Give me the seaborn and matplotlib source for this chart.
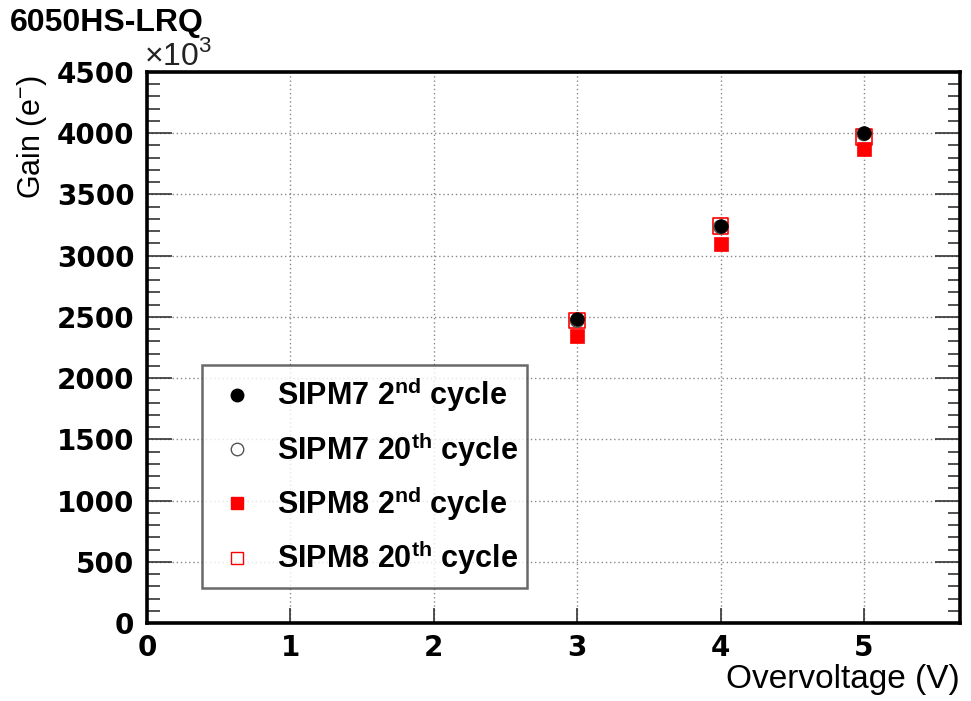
import matplotlib
matplotlib.use("Agg")
import matplotlib.pyplot as plt
from matplotlib.lines import Line2D
from matplotlib.ticker import MultipleLocator
import seaborn as sns
import pandas as pd

# ---- data ----
overvoltage = [3, 4, 5]
sipm7_2nd = [2480, 3245, 4005]
sipm7_20th = [2470, 3235, 3995]
sipm8_2nd = [2345, 3095, 3875]
sipm8_20th = [2470, 3240, 3970]
series_labels = [r"SIPM7 2$^{\mathbf{nd}}$ cycle",
                 r"SIPM7 20$^{\mathbf{th}}$ cycle",
                 r"SIPM8 2$^{\mathbf{nd}}$ cycle",
                 r"SIPM8 20$^{\mathbf{th}}$ cycle"]
x_ticks = [0, 1, 2, 3, 4, 5]
y_ticks = [0, 500, 1000, 1500, 2000, 2500, 3000, 3500, 4000, 4500]

sns.set_theme(style="white")
plt.rcParams["font.family"] = ["Liberation Sans", "DejaVu Sans"]
plt.rcParams["mathtext.fontset"] = "custom"
plt.rcParams["mathtext.rm"] = "Liberation Sans"
plt.rcParams["mathtext.bf"] = "Liberation Sans:bold"
for k in ["text.color", "axes.labelcolor", "xtick.color", "ytick.color"]:
    plt.rcParams[k] = "black"

fig = plt.figure(figsize=(9.71, 7.01), dpi=100)
ax = fig.add_axes([147 / 971, 1 - 623 / 701, (960 - 147) / 971, (623 - 72) / 701])

df = pd.DataFrame({"V": overvoltage, "s7a": sipm7_2nd, "s7b": sipm7_20th,
                   "s8a": sipm8_2nd, "s8b": sipm8_20th})

sns.scatterplot(data=df, x="V", y="s7a", marker="o", s=95, color="black",
                edgecolor="black", linewidth=0.5, ax=ax, zorder=5)
sns.scatterplot(data=df, x="V", y="s7b", marker="o", s=95, color="#555555",
                facecolor="none", edgecolor="#555555", linewidth=1.0, ax=ax, zorder=4)
sns.scatterplot(data=df, x="V", y="s8a", marker="s", s=100, color="red",
                edgecolor="red", linewidth=0.5, ax=ax, zorder=3)
sns.scatterplot(data=df, x="V", y="s8b", marker="s", s=130, color="red",
                facecolor="none", edgecolor="red", linewidth=1.2, ax=ax, zorder=2)

ax.set_xlim(0, 5.67)
ax.set_ylim(0, 4500)
ax.set_xticks(x_ticks)
ax.set_yticks(y_ticks)
ax.set_xticklabels([str(v) for v in x_ticks], fontfamily="DejaVu Sans",
                   fontweight="bold", fontsize=20)
ax.set_yticklabels([str(v) for v in y_ticks], fontfamily="DejaVu Sans",
                   fontweight="bold", fontsize=20)
ax.yaxis.set_minor_locator(MultipleLocator(100))

ax.tick_params(axis="y", which="major", direction="in", length=18, width=1.2,
               color="#333333", left=True, right=True, pad=9)
ax.tick_params(axis="y", which="minor", direction="in", length=9, width=1.2,
               color="#333333", left=True, right=True)
ax.tick_params(axis="x", which="major", direction="in", length=11, width=1.2,
               color="#333333", bottom=True, top=False, pad=8)

ax.grid(True, which="major", color="#888888", linestyle=(0, (1, 2)), linewidth=1.0)
ax.set_axisbelow(True)

for sp in ax.spines.values():
    sp.set_visible(True)
    sp.set_color("black")
    sp.set_linewidth(2.6)

ax.set_xlabel("Overvoltage (V)", fontsize=24, loc="right")
ax.xaxis.set_label_coords(1.0, -0.075)
ax.set_ylabel(r"Gain (e$^{-}$)", fontsize=22, loc="top")
ax.yaxis.set_label_coords(-0.12, 0.995)

ax.text(-0.004, 1.0, r"$\times$10$^{3}$", transform=ax.transAxes, fontsize=23,
        ha="left", va="bottom", color="#222222")
fig.text(10 / 971, 1 - 8 / 701, "6050HS-LRQ", fontsize=23, fontweight="bold",
         ha="left", va="top")

handles = [
    Line2D([], [], linestyle="none", marker="o", markersize=9,
           markerfacecolor="black", markeredgecolor="black"),
    Line2D([], [], linestyle="none", marker="o", markersize=9,
           markerfacecolor="none", markeredgecolor="#555555", markeredgewidth=1.0),
    Line2D([], [], linestyle="none", marker="s", markersize=9,
           markerfacecolor="red", markeredgecolor="red"),
    Line2D([], [], linestyle="none", marker="s", markersize=9,
           markerfacecolor="none", markeredgecolor="red", markeredgewidth=1.0),
]
leg = ax.legend(handles, series_labels, loc="lower left",
                bbox_to_anchor=(0.068, 0.0635, 0.399, 0.405), mode="expand",
                prop={"family": "Liberation Sans", "weight": "bold", "size": 22},
                frameon=True, fancybox=False, edgecolor="#444444",
                borderpad=0.35, labelspacing=0.5, handletextpad=0.5,
                handlelength=1.6, borderaxespad=0)
leg.get_frame().set_linewidth(1.8)

fig.savefig("out.png", dpi=100)
